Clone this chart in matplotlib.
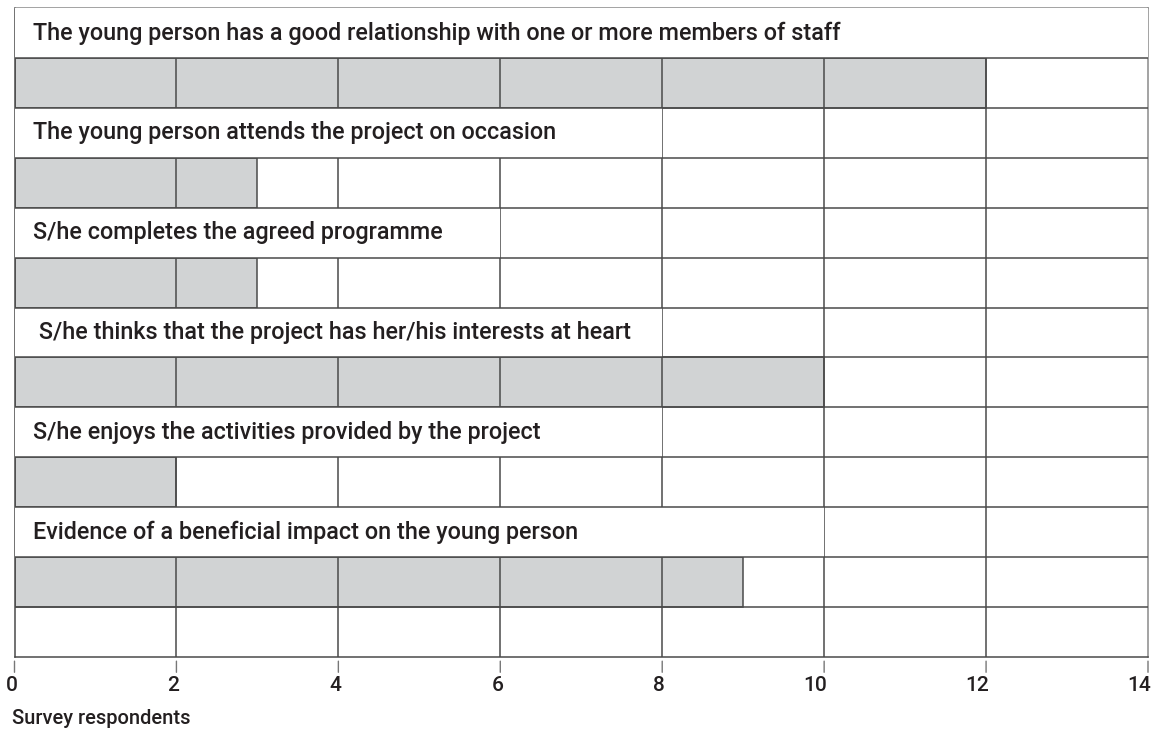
import matplotlib.pyplot as plt
from matplotlib.patches import Rectangle
from matplotlib.transforms import offset_copy, ScaledTranslation

plt.rcParams['font.family'] = ['Roboto', 'DejaVu Sans']

statements = [
    "The young person has a good relationship with one or more members of staff",
    "The young person attends the project on occasion",
    "S/he completes the agreed programme",
    " S/he thinks that the project has her/his interests at heart",
    "S/he enjoys the activities provided by the project",
    "Evidence of a beneficial impact on the young person",
]
respondents = [12, 3, 3, 10, 2, 9]
xticks = [0, 2, 4, 6, 8, 10, 12, 14]
x_label = "Survey respondents"

# how far the white caption box reaches across the grid (layout only)
caption_box_end = [14, 8, 6, 8, 8, 10]

line_col = '#4a4a4a'
bar_col = '#d1d3d4'
text_col = '#231f20'

fig = plt.figure(figsize=(11.56, 7.31), dpi=100)
ax = fig.add_axes([14.5 / 1156, 1 - 657 / 731, (1148 - 14.5) / 1156, (657 - 8) / 731])

n_rows = 2 * len(statements) + 1
ax.set_xlim(0, 14)
ax.set_ylim(n_rows, 0)

# vertical grid
for x in xticks[1:-1]:
    ax.axvline(x, color=line_col, lw=1.1, zorder=2)

# bars (below the grid lines)
bar_y = [2 * i + 1.5 for i in range(len(statements))]
ax.barh(bar_y, respondents, height=1.0, color=bar_col, edgecolor=line_col,
        linewidth=1.1, zorder=1)

# caption rows
for i, (txt, end) in enumerate(zip(statements, caption_box_end)):
    ax.add_patch(Rectangle((0, 2 * i), end, 1, facecolor='white',
                           edgecolor='none', zorder=3))
    ax.annotate(txt, xy=(0, 2 * i + 0.5), xytext=(13, 0), textcoords='offset points',
                va='center', ha='left', fontsize=16.8, fontweight='medium',
                color=text_col, zorder=5)

# horizontal row lines
for y in range(1, n_rows):
    ax.axhline(y, color=line_col, lw=1.1, zorder=4)

for side in ['left', 'bottom']:
    ax.spines[side].set_color(line_col)
    ax.spines[side].set_linewidth(1.1)
for side in ['top', 'right']:
    ax.spines[side].set_color('#8a8a8a')
    ax.spines[side].set_linewidth(1.1)

ax.set_yticks([])
ax.set_xticks(xticks)
ax.set_xticklabels([str(v) for v in xticks], fontsize=15, fontweight='medium',
                   color=text_col)
ax.tick_params(axis='x', direction='out', length=0, pad=14)
shift = ScaledTranslation(3 / 100, 0, fig.dpi_scale_trans)
for lab in ax.get_xticklabels():
    lab.set_horizontalalignment('right')
    lab.set_transform(lab.get_transform() + shift)

# tick marks sit a little below the frame
tr = offset_copy(ax.transData, fig=fig, x=0, y=-3, units='points')
tr2 = offset_copy(ax.transData, fig=fig, x=0, y=-11, units='points')
for x in xticks:
    ax.annotate('', xy=(x, n_rows), xycoords=tr2, xytext=(x, n_rows), textcoords=tr,
                arrowprops=dict(arrowstyle='-', color='#777777', lw=1.0,
                                shrinkA=0, shrinkB=0),
                annotation_clip=False)

fig.text(12 / 1156, 1 - 719 / 731, x_label, fontsize=14.5, fontweight='medium',
         color=text_col, ha='left', va='center')

fig.savefig('out.png', dpi=100)
